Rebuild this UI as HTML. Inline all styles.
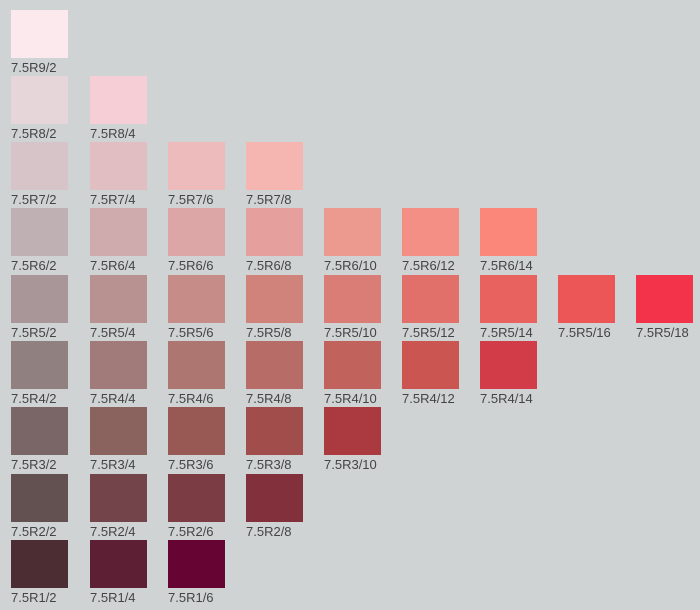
<!DOCTYPE html>
<html><head><meta charset="utf-8"><style>
body{margin:0;width:700px;height:610px;background:#cfd3d3;position:relative;overflow:hidden;font-family:"Liberation Sans",sans-serif}
.s{position:absolute;width:57px;height:48px}
.l{position:absolute;font-size:13px;color:#444;line-height:15px;white-space:nowrap}
</style></head><body>
<script>
const X=[11,90,168,246,324,402,480,558,636];
const Y={9:10,8:76,7:142,6:208,5:275,4:341,3:407,2:474,1:540};
const D=[
[9,2,'#fbe9ee'],
[8,2,'#e6d6da'],[8,4,'#f5cfd5'],
[7,2,'#d7c4c8'],[7,4,'#e1bec2'],[7,6,'#eebbbc'],[7,8,'#f5b5b1'],
[6,2,'#bfb0b3'],[6,4,'#cfabad'],[6,6,'#dca6a6'],[6,8,'#e59f9c'],[6,10,'#ec9a90'],[6,12,'#f48f85'],[6,14,'#fb867a'],
[5,2,'#a89699'],[5,4,'#b89291'],[5,6,'#c68d88'],[5,8,'#cf837b'],[5,10,'#d97d76'],[5,12,'#e2706a'],[5,14,'#e8625f'],[5,16,'#ec5656'],[5,18,'#f2334a'],
[4,2,'#918080'],[4,4,'#a17b79'],[4,6,'#ae7670'],[4,8,'#b86c67'],[4,10,'#c2625d'],[4,12,'#cb5550'],[4,14,'#d13c48'],
[3,2,'#7b6667'],[3,4,'#8a625e'],[3,6,'#985955'],[3,8,'#a04d4b'],[3,10,'#aa3940'],
[2,2,'#625150'],[2,4,'#74444b'],[2,6,'#7b3d43'],[2,8,'#82303b'],
[1,2,'#4c2d34'],[1,4,'#5c1f33'],[1,6,'#660534']];
let h='';
for(const [v,c,col] of D){const x=X[c/2-1],y=Y[v];
h+=`<div class="s" style="left:${x}px;top:${y}px;background:${col}"></div><div class="l" style="left:${x}px;top:${y+50}px">7.5R${v}/${c}</div>`;}
document.body.innerHTML=h;
</script>
</body></html>
